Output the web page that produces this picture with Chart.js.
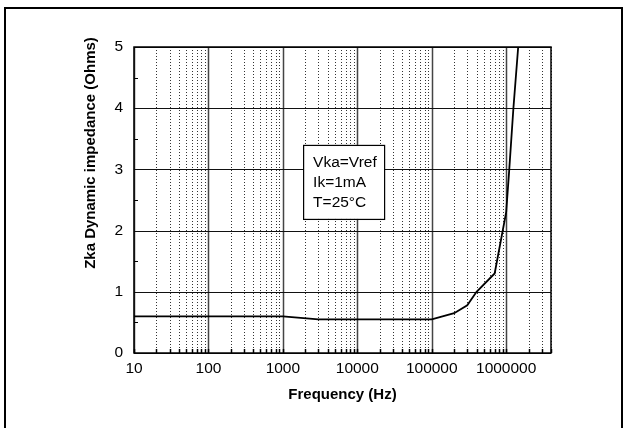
<!DOCTYPE html>
<html>
<head>
<meta charset="utf-8">
<script src="https://cdn.jsdelivr.net/npm/chart.js@4.4.1/dist/chart.umd.min.js"></script>
<style>
  html, body { margin: 0; padding: 0; background: #fff; }
  #wrap { width: 623px; height: 428px; position: relative; }
</style>
</head>
<body>
<div id="wrap"><canvas id="zka-canvas"></canvas></div>
<script>
// curve: frequency (Hz) and Zka (Ohms)
const freqHz = [10, 1000, 3000, 100000, 200000, 300000, 400000, 700000, 1000000, 1100000, 1250000, 1450000];
const zkaOhms = [0.6, 0.6, 0.55, 0.55, 0.65, 0.78, 1.0, 1.3, 2.3, 3.0, 4.0, 5.0];

const decadeTicks = [10, 100, 1000, 10000, 100000, 1000000];
const yTicks = [0, 1, 2, 3, 4, 5];
const noteLines = ["Vka=Vref", "Ik=1mA", "T=25°C"];

const xTitle = "Frequency (Hz)";
const yTitle = "Zka Dynamic impedance (Ohms)";
const X_MIN = 10, X_MAX = 4000000;

const FONT = "'Liberation Sans', Arial, sans-serif";

function allLogTicks() {
  const out = [];
  decadeTicks.forEach((d) => {
    for (let m = 1; m <= 9; m++) {
      const v = d * m;
      if (v >= X_MIN && v <= X_MAX) out.push(v);
    }
  });
  return out;
}

const paperPlugin = {
  id: "paper",
  beforeDatasetsDraw(chart) {
    const { ctx, chartArea: a, scales } = chart;
    const xs = scales.x, ys = scales.y;
    ctx.save();
    // vertical grid
    allLogTicks().forEach((v) => {
      const px = Math.round(xs.getPixelForValue(v)) + 0.5;
      const major = decadeTicks.includes(v);
      ctx.beginPath();
      ctx.setLineDash(major ? [] : [1, 2]);
      ctx.strokeStyle = major ? "#444" : "#333";
      ctx.lineWidth = major ? 1.5 : 1;
      ctx.moveTo(px, a.top);
      ctx.lineTo(px, a.bottom);
      ctx.stroke();
      // short inward tick at bottom
      ctx.setLineDash([]);
      ctx.strokeStyle = "#000";
      ctx.lineWidth = 1.5;
      ctx.beginPath();
      ctx.moveTo(px, a.bottom);
      ctx.lineTo(px, a.bottom - 4);
      ctx.stroke();
    });
    ctx.setLineDash([]);
    // horizontal grid
    yTicks.forEach((v) => {
      const py = Math.round(ys.getPixelForValue(v)) + 0.5;
      ctx.beginPath();
      ctx.strokeStyle = "#111";
      ctx.lineWidth = 1.2;
      ctx.moveTo(a.left, py);
      ctx.lineTo(a.right, py);
      ctx.stroke();
    });
    // minor y ticks
    for (let v = 0.5; v < 5; v += 1) {
      const py = Math.round(ys.getPixelForValue(v)) + 0.5;
      ctx.beginPath();
      ctx.strokeStyle = "#000";
      ctx.lineWidth = 1;
      ctx.moveTo(a.left, py);
      ctx.lineTo(a.left + 4, py);
      ctx.stroke();
    }
    // plot frame
    ctx.strokeStyle = "#000";
    ctx.lineWidth = 1.5;
    ctx.strokeRect(a.left, a.top, a.right - a.left, a.bottom - a.top);
    ctx.restore();
  },
  afterDatasetsDraw(chart) {
    const { ctx, scales } = chart;
    ctx.save();
    // note box
    const bx = scales.x.getPixelForValue(1870), by = scales.y.getPixelForValue(3.4);
    const bw = 81, bh = 74;
    ctx.fillStyle = "#fff";
    ctx.fillRect(bx, by, bw, bh);
    ctx.strokeStyle = "#000";
    ctx.lineWidth = 1.2;
    ctx.strokeRect(bx + 0.5, by + 0.5, bw, bh);
    ctx.fillStyle = "#000";
    ctx.font = "15.5px " + FONT;
    ctx.textBaseline = "middle";
    ctx.textAlign = "left";
    noteLines.forEach((t, i) => {
      ctx.fillText(t, bx + 10, by + 18 + i * 20);
    });
    // y title
    ctx.font = "bold 15px " + FONT;
    ctx.textAlign = "center";
    ctx.translate(91, 153);
    ctx.rotate(-Math.PI / 2);
    ctx.fillText(yTitle, 0, 0);
    ctx.restore();
    // outer frame
    ctx.save();
    ctx.strokeStyle = "#000";
    ctx.lineWidth = 2;
    ctx.beginPath();
    ctx.moveTo(5, 428);
    ctx.lineTo(5, 8);
    ctx.lineTo(622, 8);
    ctx.lineTo(622, 428);
    ctx.stroke();
    ctx.restore();
  }
};

const points = freqHz.map((f, i) => ({ x: f, y: zkaOhms[i] }));

new Chart(document.querySelector("#zka-canvas"), {
  type: "line",
  data: {
    datasets: [
      {
        data: points,
        borderColor: "#000",
        borderWidth: 1.8,
        pointRadius: 0,
        tension: 0,
        fill: false,
      },
    ],
  },
  options: {
    responsive: true,
    maintainAspectRatio: false,
    animation: false,
    layout: { padding: { top: 47, right: 72, left: 0, bottom: 0 } },
    plugins: { legend: { display: false }, tooltip: { enabled: false } },
    scales: {
      x: {
        type: "logarithmic",
        min: X_MIN,
        max: X_MAX,
        afterBuildTicks: (scale) => {
          scale.ticks = allLogTicks().map((v) => ({ value: v }));
        },
        afterFit: (scale) => { scale.height = 75; },
        grid: { display: false, drawTicks: false },
        border: { display: false },
        ticks: {
          autoSkip: false,
          maxRotation: 0,
          padding: 6,
          color: "#000",
          font: { family: FONT, size: 15.5 },
          callback: (v) => (decadeTicks.includes(v) ? String(v) : ""),
        },
        title: {
          display: true,
          text: xTitle,
          color: "#000",
          font: { family: FONT, size: 15, weight: "bold" },
          padding: { top: 0, bottom: 24 },
        },
      },
      y: {
        min: 0,
        max: 5,
        afterBuildTicks: (scale) => {
          scale.ticks = yTicks.map((v) => ({ value: v }));
        },
        afterFit: (scale) => { scale.width = 134; },
        grid: { display: false, drawTicks: false },
        border: { display: false },
        ticks: {
          padding: 11,
          color: "#000",
          font: { family: FONT, size: 15.5 },
        },
      },
    },
  },
  plugins: [paperPlugin],
});
</script>
</body>
</html>
